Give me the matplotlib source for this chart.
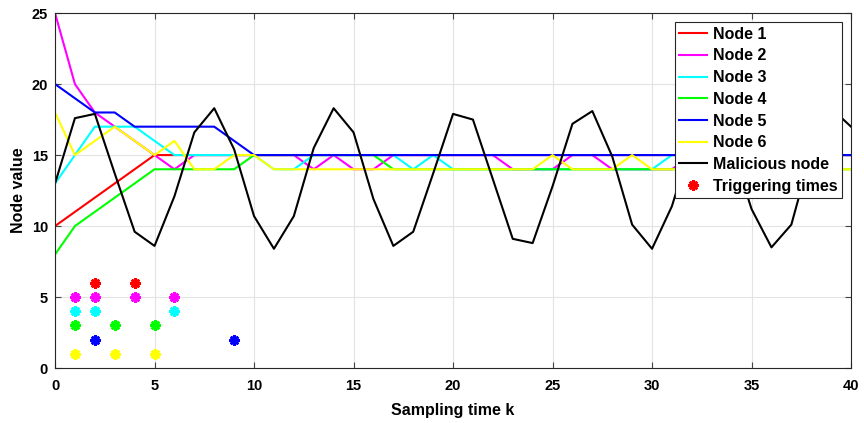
import matplotlib
matplotlib.use("Agg")
import matplotlib.pyplot as plt
from matplotlib.lines import Line2D

plt.rcParams['font.family'] = ['Liberation Sans', 'DejaVu Sans']
plt.rcParams['font.weight'] = 'bold'

k = list(range(41))

node1 = [10, 11, 12, 13, 14, 15] + [15] * 35
node2 = [25, 20, 18, 17, 16, 15, 14, 15, 15, 15, 15, 15, 15, 14, 15, 14, 14, 15, 15, 15,
         15, 15, 15, 14, 14, 14, 15, 15, 14, 14, 14, 14, 15, 15, 15, 15, 15, 15, 15, 15, 15]
node3 = [13, 15, 17, 17, 17, 16, 15, 15, 15, 15, 15, 14, 14, 15, 15, 15, 15, 15, 14, 15,
         14, 14, 14, 14, 14, 14, 14, 14, 14, 14, 14, 15, 15, 15, 15, 15, 15, 15, 15, 15, 15]
node4 = [8, 10, 11, 12, 13, 14, 14, 14, 14, 14, 15, 15, 15, 15, 15, 15, 15] + [14] * 24
node5 = [20, 19, 18, 18, 17, 17, 17, 17, 17, 16] + [15] * 31
node6 = [18, 15, 16, 17, 16, 15, 16, 14, 14, 15, 15, 14, 14, 14, 14, 14, 14, 14, 14, 14,
         14, 14, 14, 14, 14, 15, 14, 14, 14, 15, 14, 14, 14, 14, 14, 14, 14, 14, 14, 14, 14]
malicious = [13.0, 17.6, 17.9, 13.7, 9.6, 8.6, 12.1, 16.6, 18.3, 15.4,
             10.7, 8.4, 10.7, 15.5, 18.3, 16.6, 11.9, 8.6, 9.6, 13.7,
             17.9, 17.5, 13.3, 9.1, 8.8, 12.8, 17.2, 18.1, 14.9, 10.1,
             8.4, 11.4, 16.0, 18.3, 15.6, 11.2, 8.5, 10.1, 15.2, 18.3, 17.0]

nodes = [node1, node2, node3, node4, node5, node6]
labels = ['Node 1', 'Node 2', 'Node 3', 'Node 4', 'Node 5', 'Node 6']
colors = ['#ff0000', '#ff00ff', '#00ffff', '#00ff00', '#0000ff', '#ffff00']

# event-triggered instants of each node, drawn on its own row
trig_k = [[2, 4], [1, 2, 4, 6], [1, 2, 6], [1, 3, 5], [2, 9], [1, 3, 5]]
trig_row = [6, 5, 4, 3, 2, 1]

# 8-armed asterisk, thick strokes
star = (8, 2, 0)

fig = plt.figure(figsize=(8.64, 4.23), dpi=100)
ax = fig.add_axes([0.0637, 0.130, 0.9213, 0.839])

for y, lab, c in zip(nodes, labels, colors):
    ax.plot(k, y, color=c, lw=1.5, label=lab)
ax.plot(k, malicious, color='k', lw=1.5, label='Malicious node')

for tk, row, c in zip(trig_k, trig_row, colors):
    ax.plot(tk, [row] * len(tk), ls='none', marker=star, ms=7.5, mew=1.9,
            color=c)

ax.set_xlim(0, 40)
ax.set_ylim(0, 25)
ax.set_xticks(range(0, 41, 5))
ax.set_yticks(range(0, 26, 5))
ax.grid(True, color='#e3e3e3', lw=0.8)
ax.set_axisbelow(True)
ax.tick_params(direction='in', top=True, right=True, length=4, width=0.8,
               labelsize=10.5, color='#444444')
ax.tick_params(axis='x', pad=8)
ax.tick_params(axis='y', pad=5)
for s in ax.spines.values():
    s.set_color('#262626')
    s.set_linewidth(0.8)
ax.set_xlabel('Sampling time k', fontsize=11.5, fontweight='bold', labelpad=7)
ax.set_ylabel('Node value', fontsize=11.5, fontweight='bold', labelpad=4)

handles, hl = ax.get_legend_handles_labels()
handles.append(Line2D([], [], ls='none', marker=star, ms=7.5, mew=1.9, color='#ff0000'))
hl.append('Triggering times')
leg = ax.legend(handles, hl, loc='upper right', fontsize=11.5, frameon=True,
                fancybox=False, framealpha=1, edgecolor='#262626',
                handlelength=1.75, handletextpad=0.35, labelspacing=0.42,
                borderpad=0.3, borderaxespad=0.55)
leg.get_frame().set_linewidth(0.8)
for t in leg.get_texts():
    t.set_fontweight('bold')

fig.savefig('out.png', dpi=100)
